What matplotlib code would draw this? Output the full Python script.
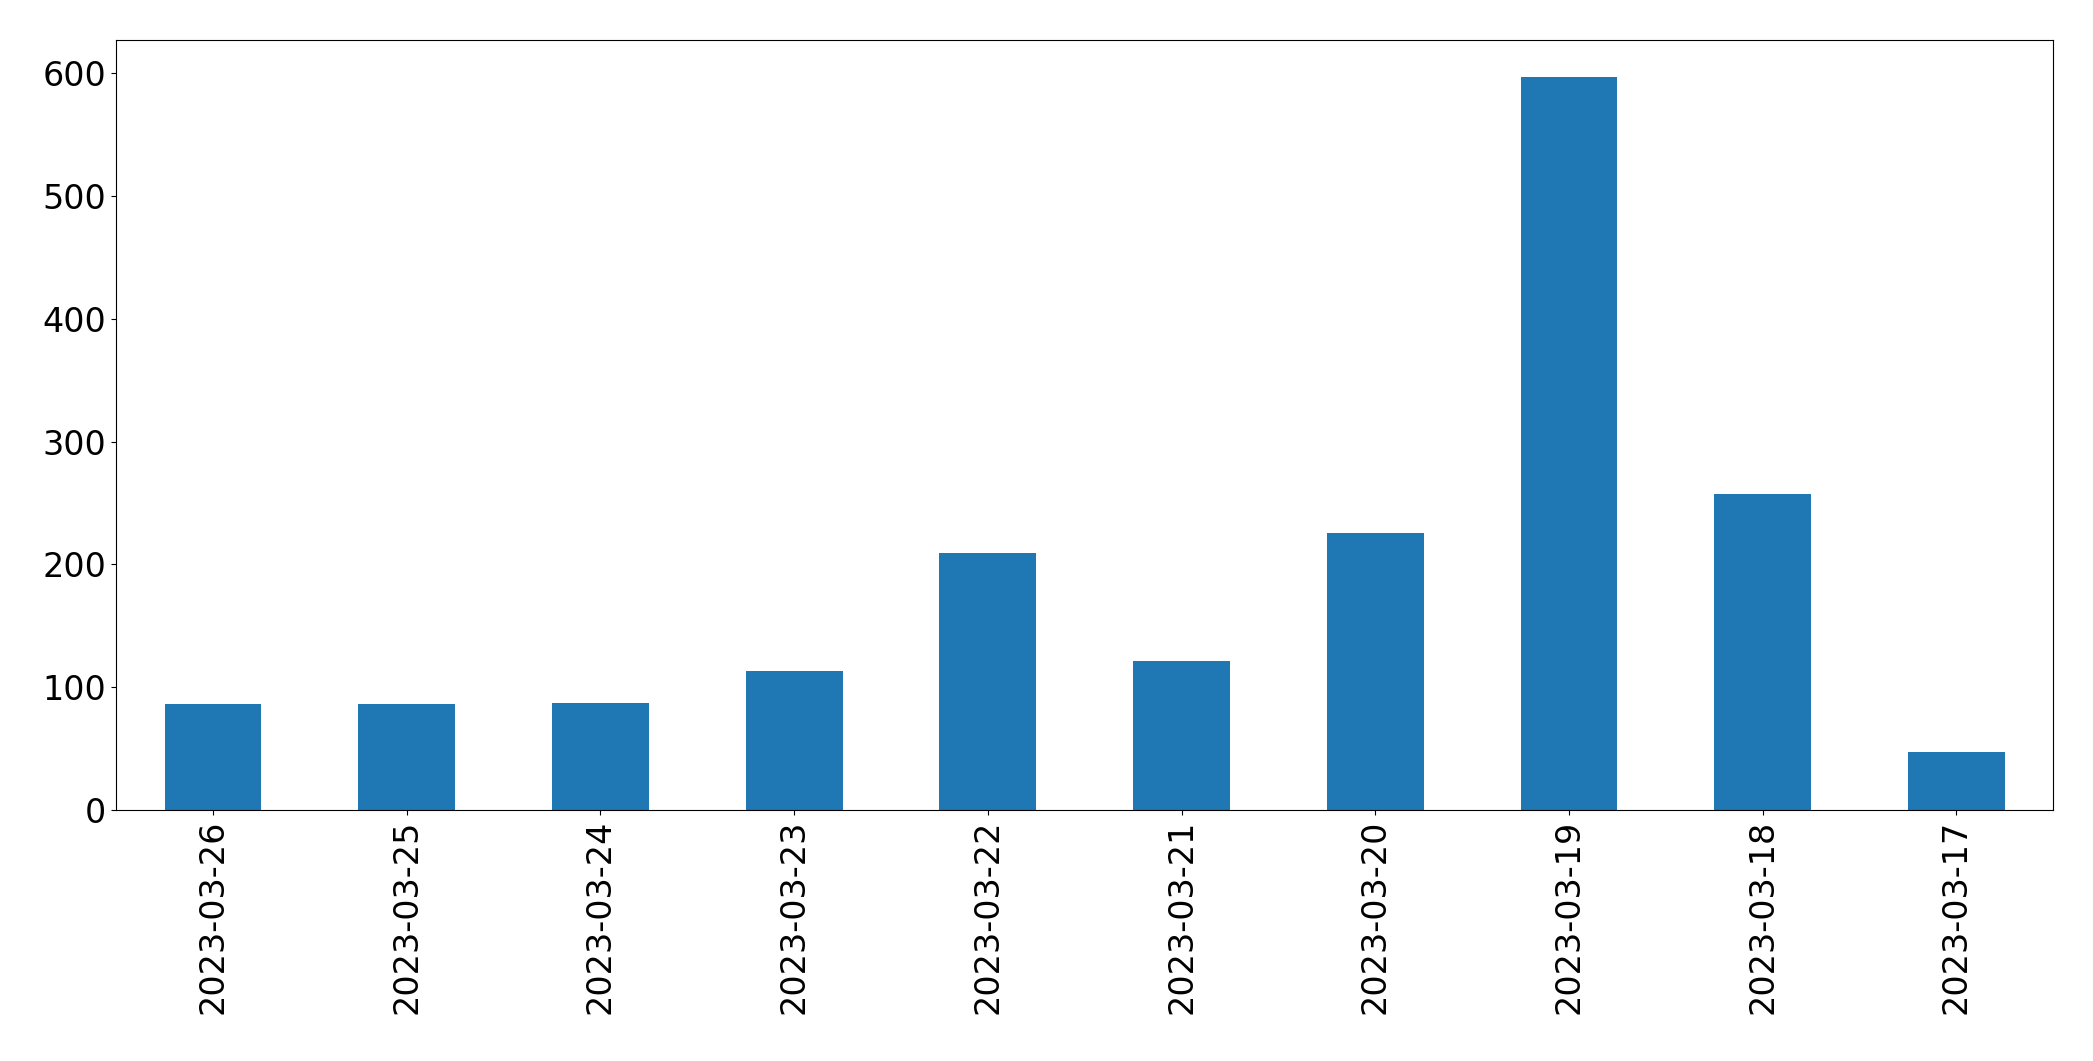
import matplotlib
matplotlib.use("Agg")
import matplotlib.pyplot as plt

dates = ["2023-03-26", "2023-03-25", "2023-03-24", "2023-03-23", "2023-03-22",
         "2023-03-21", "2023-03-20", "2023-03-19", "2023-03-18", "2023-03-17"]
counts = [86, 86, 87, 113, 209, 121, 226, 597, 257, 47]

fig = plt.figure(figsize=(20.93, 10.61), dpi=100)
ax = fig.add_axes([0.0555, 0.2365, 0.9255, 0.7255])
ax.bar(range(len(dates)), counts, width=0.5, color="#1f77b4")
ax.set_xticks(range(len(dates)))
ax.set_xticklabels(dates, rotation=90)
ax.set_xlim(-0.5, len(dates) - 0.5)
ax.tick_params(labelsize=24)
fig.savefig("out.png", dpi=100)
